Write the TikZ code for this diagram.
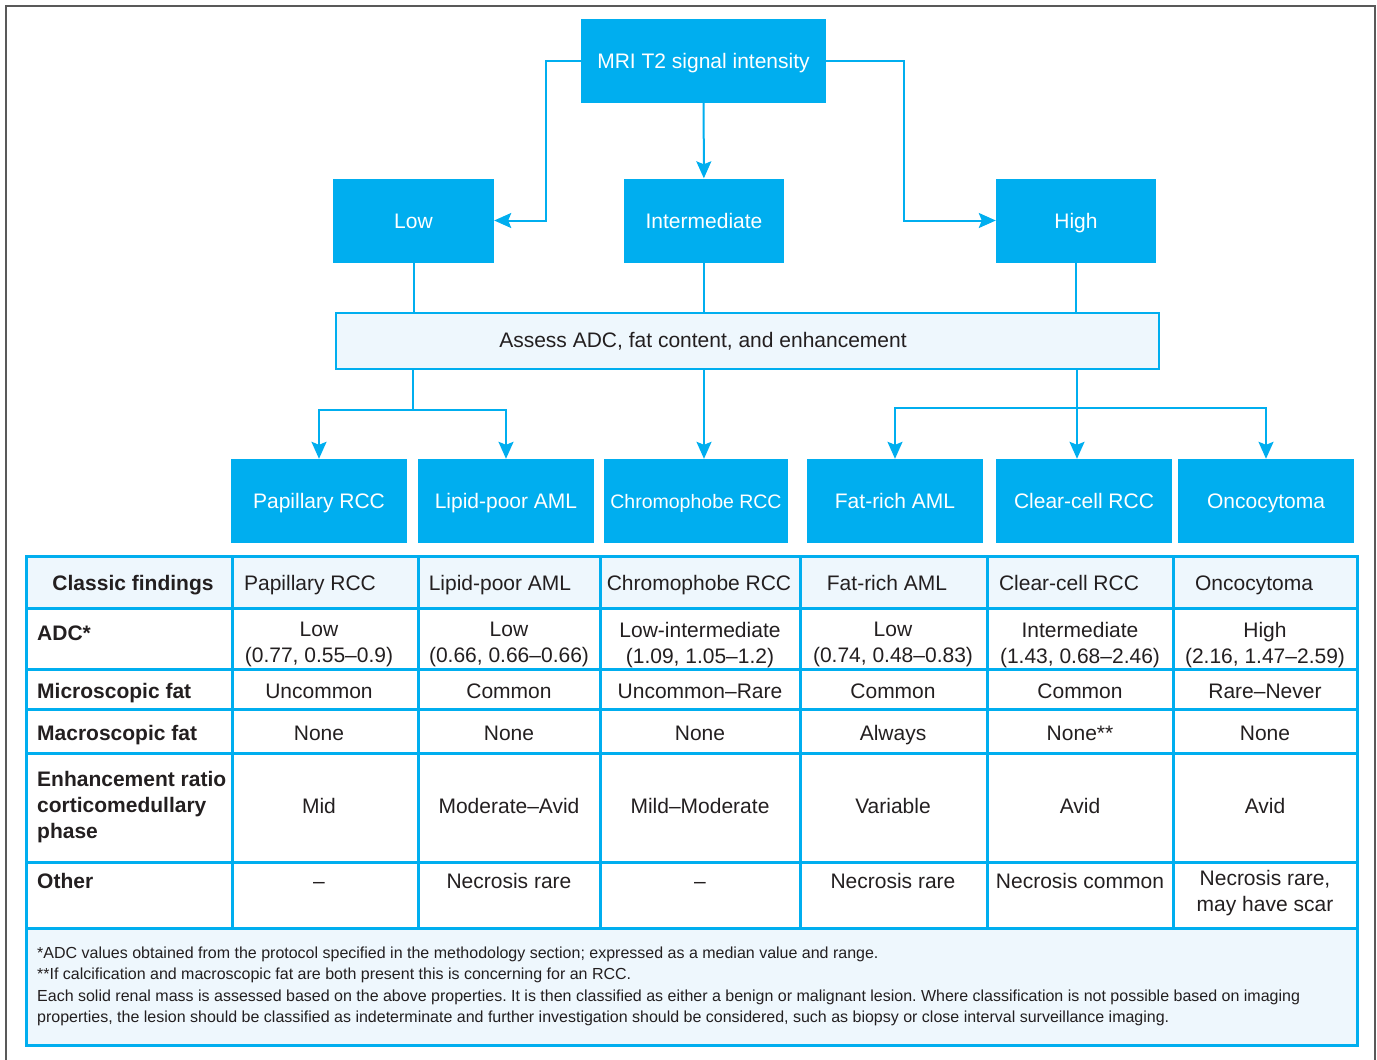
\documentclass[tikz,border=0pt]{standalone}
\usepackage{fontspec}
\setmainfont{Liberation Sans}
\usetikzlibrary{arrows.meta}
\definecolor{cyanb}{RGB}{0,174,239}
\definecolor{paleb}{RGB}{238,247,253}
\definecolor{ink}{RGB}{35,31,32}
\frenchspacing
\newcommand{\rowtext}[3]{
  \foreach \txt [count=\i] in {#3}{
    \pgfmathsetmacro{\cx}{{319,509,700,893,1080,1265}[\i-1]}
    \node[cell] (#1\i) at (\cx,#2) {\txt};
  }
}

\begin{document}
\begin{tikzpicture}[x=1pt,y=-1pt,
    box/.style={fill=cyanb,text=white,inner sep=0pt,minimum height=84pt,text height=15pt,text depth=0pt,
      font=\fontsize{21}{25}\selectfont},
    con/.style={draw=cyanb,line width=2pt},
    arr/.style={con,-{Stealth[length=17pt,width=15pt,inset=3pt]}},
    cell/.style={anchor=north,align=center,inner sep=0pt,text=ink,font=\fontsize{21}{26}\selectfont,execute at begin node=\strut},
    lab/.style={cell,anchor=north west,align=left,font=\bfseries\fontsize{21}{26}\selectfont},
    tabline/.style={draw=cyanb,line width=3pt}]
  \useasboundingbox (0,0) rectangle (1377,1060);
  \draw[black!65,line width=1.5pt] (6,1060) -- (6,6) -- (1375,6) -- (1375,1060);

  % flow chart
  \node[box,minimum width=245pt] (T) at (703.5,61) {MRI T2 signal intensity};
  \node[box,minimum width=161pt] (L) at (413.5,220.5) {Low};
  \node[box,minimum width=160pt] (I) at (704,220.5) {Intermediate};
  \node[box,minimum width=160pt] (H) at (1076,220.5) {High};
  \node[draw=cyanb,fill=paleb,line width=2.5pt,minimum width=823pt,minimum height=56pt,
    label={[name=At,text=ink,font=\fontsize{21}{25}\selectfont,xshift=-44.5pt]center:Assess ADC, fat content, and enhancement}] (A) at (747.5,341) {};
  \node[box,minimum width=176pt] (B1) at (319,501) {Papillary RCC};
  \node[box,minimum width=176pt] (B2) at (506,501) {Lipid-poor AML};
  \node[box,minimum width=184pt,font=\fontsize{19.5}{25}\selectfont] (B3) at (696,501) {Chromophobe RCC};
  \node[box,minimum width=176pt] (B4) at (895,501) {Fat-rich AML};
  \node[box,minimum width=176pt] (B5) at (1084,501) {Clear-cell RCC};
  \node[box,minimum width=176pt] (B6) at (1266,501) {Oncocytoma};

  \draw[arr] (T.west) -- ++(-35,0) |- (L.east);
  \draw[arr] (T) -- (I);
  \draw[arr] (T.east) -- ++(78,0) |- (H.west);
  \foreach \n in {L,I,H}
    \draw[con] (\n) -- (\n |- A.north);
  \coordinate (jl) at (413,410);
  \coordinate (jh) at (1077,408);
  \draw[con] (A.south -| jl) -- (jl);
  \draw[arr] (jl) -| (B1);
  \draw[arr] (jl) -| (B2);
  \draw[arr] (A.south -| I) -- (I |- B3.north);
  \draw[arr] (A.south -| jh) -- (jh |- B5.north);
  \draw[arr] (jh) -| (B4);
  \draw[arr] (jh) -| (B6);

  % table
  \fill[paleb] (26,556) rectangle (1357,608);
  \fill[paleb] (26,928) rectangle (1357,1045);
  \foreach \y in {608,669,709,753,862,928}
    \draw[tabline] (26,\y) -- (1357,\y);
  \foreach \x in {232,418,600,800,987,1173}
    \draw[tabline] (\x,556) -- (\x,928);
  \draw[tabline] (26,556) rectangle (1357,1045);

  \node[lab,anchor=north] (h0) at (133,571.6) {Classic findings};
  \foreach \x/\txt [count=\i] in {310/Papillary RCC, 500/Lipid-poor AML, 699/Chromophobe RCC,
      887/Fat-rich AML, 1069/Clear-cell RCC, 1254/Oncocytoma}
    \node[cell] (h\i) at (\x,571.6) {\txt};

  \node[lab] (r1) at (37,621.6) {ADC*};
  \node[lab] (r2) at (37,679.6) {Microscopic fat};
  \node[lab] (r3) at (37,721.6) {Macroscopic fat};
  \node[lab] (r4) at (37,770.6) {Enhancement ratio\\corticomedullary\\phase};
  \node[lab] (r5) at (37,869.6) {Other};
  \rowtext{adc}{621.6}{{Low\\(0.77, 0.55–0.9)}, {Low\\(0.66, 0.66–0.66)}, {Low-intermediate\\(1.09, 1.05–1.2)},
    {Low\\(0.74, 0.48–0.83)}, {Intermediate\\(1.43, 0.68–2.46)}, {High\\(2.16, 1.47–2.59)}}
  \rowtext{mic}{679.6}{Uncommon, Common, Uncommon–Rare, Common, Common, Rare–Never}
  \rowtext{mac}{721.6}{None, None, None, Always, None**, None}
  \rowtext{enh}{794.6}{Mid, Moderate–Avid, Mild–Moderate, Variable, Avid, Avid}
  \rowtext{oth}{869.6}{–, Necrosis rare, –, Necrosis rare, Necrosis common, {Necrosis rare,\\may have scar}}

  \node[anchor=north west,align=left,inner sep=0pt,text=ink,font=\fontsize{16}{21.3}\selectfont,
    execute at begin node=\strut] (F) at (37,946.8)
    {*ADC values obtained from the protocol specified in the methodology section; expressed as a median value and range.\\
     {}**If calcification and macroscopic fat are both present this is concerning for an RCC.\\
     Each solid renal mass is assessed based on the above properties. It is then classified as either a benign or malignant lesion. Where classification is not possible based on imaging\\
     properties, the lesion should be classified as indeterminate and further investigation should be considered, such as biopsy or close interval surveillance imaging.};
\end{tikzpicture}
\end{document}
